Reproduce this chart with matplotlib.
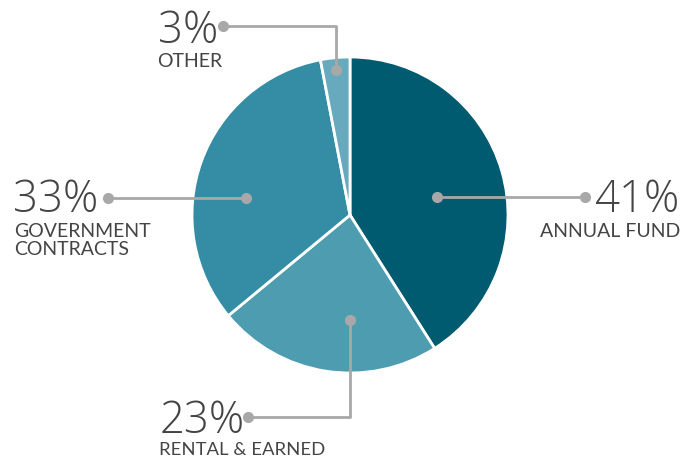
import matplotlib
matplotlib.use("Agg")
import matplotlib.pyplot as plt

labels = ["ANNUAL FUND", "RENTAL & EARNED", "GOVERNMENT\nCONTRACTS", "OTHER"]
values = [41, 23, 33, 3]
pct_labels = ["41%", "23%", "33%", "3%"]
colors = ["#005a70", "#4e9cb0", "#358ca5", "#68aabd"]

W, H = 683, 457
fig = plt.figure(figsize=(W / 100, H / 100), dpi=100)
ax = fig.add_axes([0, 0, 1, 1])

def Y(y):
    return H - y

ax.pie(values, colors=colors, startangle=90, counterclock=False,
       center=(350, Y(215)), radius=158, frame=True,
       wedgeprops=dict(edgecolor="white", linewidth=2))
ax.set_xlim(0, W)
ax.set_ylim(0, H)
ax.set_aspect("auto")
ax.axis("off")

lc = "#a8a8a8"
def connector(pts):
    xs = [p[0] for p in pts]
    ys = [Y(p[1]) for p in pts]
    ax.plot(xs, ys, color=lc, lw=2, solid_capstyle="butt", zorder=5)
    ax.plot([xs[0], xs[-1]], [ys[0], ys[-1]], "o", color=lc, ms=7, zorder=6)

connector([(437, 197), (585, 197)])
connector([(350, 320), (350, 417), (248, 417)])
connector([(246, 198), (108, 198)])
connector([(336, 70), (336, 26), (223, 26)])

tc = "#444444"
big = 31.5
small = 14
def txt(x, y, s, size, ha="left", weight="light", fam=("Open Sans", "DejaVu Sans")):
    ax.text(x, Y(y), s, fontsize=size, color=tc, ha=ha, va="baseline",
            family=list(fam), fontweight=weight, linespacing=1.1)

lab_fam = ("Lato", "DejaVu Sans")
txt(679, 212, pct_labels[0], big, ha="right")
txt(680, 237, labels[0], small, ha="right", weight="normal", fam=lab_fam)
txt(160, 433, pct_labels[1], big)
txt(159, 455, labels[1], 13.3, weight="normal", fam=lab_fam)
txt(13, 212, pct_labels[2], big)
txt(14, 255, labels[2], small, weight="normal", fam=lab_fam)
txt(158, 43, pct_labels[3], big)
txt(157, 67, labels[3], small, weight="normal", fam=lab_fam)

fig.savefig("out.png", dpi=100)
